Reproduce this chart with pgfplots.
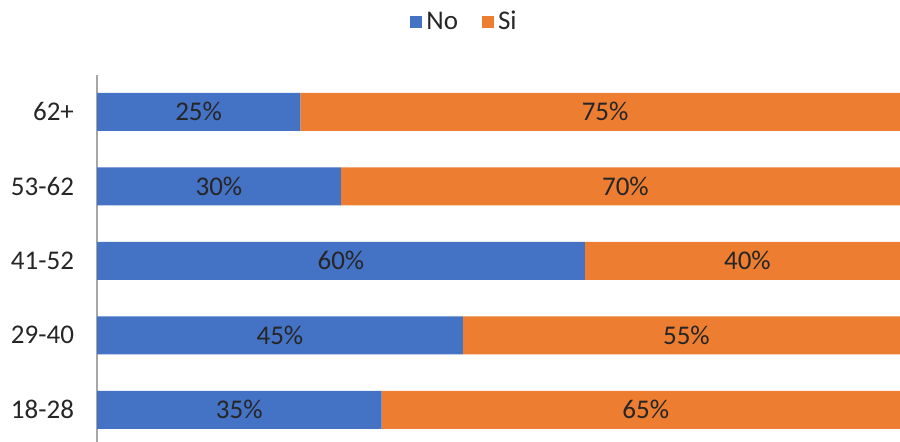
\documentclass[border=0pt]{standalone}
\usepackage{pgfplots}
\pgfplotsset{compat=1.18}
\usepackage{fontspec}
\setmainfont{Carlito}
\definecolor{cno}{HTML}{4472C4}
\definecolor{csi}{HTML}{ED7D31}
\definecolor{txt}{HTML}{262626}
\definecolor{axc}{HTML}{A6A6A6}
\begin{document}
\begin{tikzpicture}
\useasboundingbox (0,0) rectangle (450pt,220.5pt);
\clip (0,0) rectangle (450pt,220.5pt);
\begin{axis}[
  at={(48.5pt,-3pt)}, anchor=south west,
  width=406.5pt, height=186.25pt, scale only axis,
  xbar stacked, bar width=0.51,
  xmin=0, xmax=100, ymin=-0.5, ymax=4.5,
  hide x axis,
  axis y line*=left,
  y axis line style={draw=axc, line width=1pt},
  ytick={0,1,2,3,4},
  yticklabels={18-28,29-40,41-52,53-62,62+},
  major tick length=0pt,
  yticklabel style={font=\fontsize{13.5}{15}\selectfont, text=txt, xshift=-8pt},
  legend style={at={(0.4533,1.141)}, anchor=center, draw=none, fill=none,
    font=\fontsize{13.5}{15}\selectfont, text=txt,
    legend columns=2,
    /tikz/every even column/.append style={column sep=10pt}},
  legend image code/.code={\fill[#1] (-2.5pt,-3pt) rectangle (3.5pt,3pt);},
]
\addplot[fill=cno, draw=none] coordinates {(35,0) (45,1) (60,2) (30,3) (25,4)};
\addplot[fill=csi, draw=none] coordinates {(65,0) (55,1) (40,2) (70,3) (75,4)};
\legend{No,Si}
\end{axis}
\begin{axis}[
  at={(48.5pt,-3pt)}, anchor=south west,
  width=406.5pt, height=186.25pt, scale only axis,
  xmin=0, xmax=100, ymin=-0.5, ymax=4.5,
  axis lines=none,
]
\addplot[draw=none, mark=none, nodes near coords, point meta=explicit symbolic,
  every node near coord/.append style={anchor=center, text=txt, font=\fontsize{13.5}{15}\selectfont}]
  coordinates {(17.5,0) [35\%] (22.5,1) [45\%] (30,2) [60\%] (15,3) [30\%] (12.5,4) [25\%]};
\addplot[draw=none, mark=none, nodes near coords, point meta=explicit symbolic,
  every node near coord/.append style={anchor=center, text=txt, font=\fontsize{13.5}{15}\selectfont}]
  coordinates {(67.5,0) [65\%] (72.5,1) [55\%] (80,2) [40\%] (65,3) [70\%] (62.5,4) [75\%]};
\end{axis}
\end{tikzpicture}
\end{document}
